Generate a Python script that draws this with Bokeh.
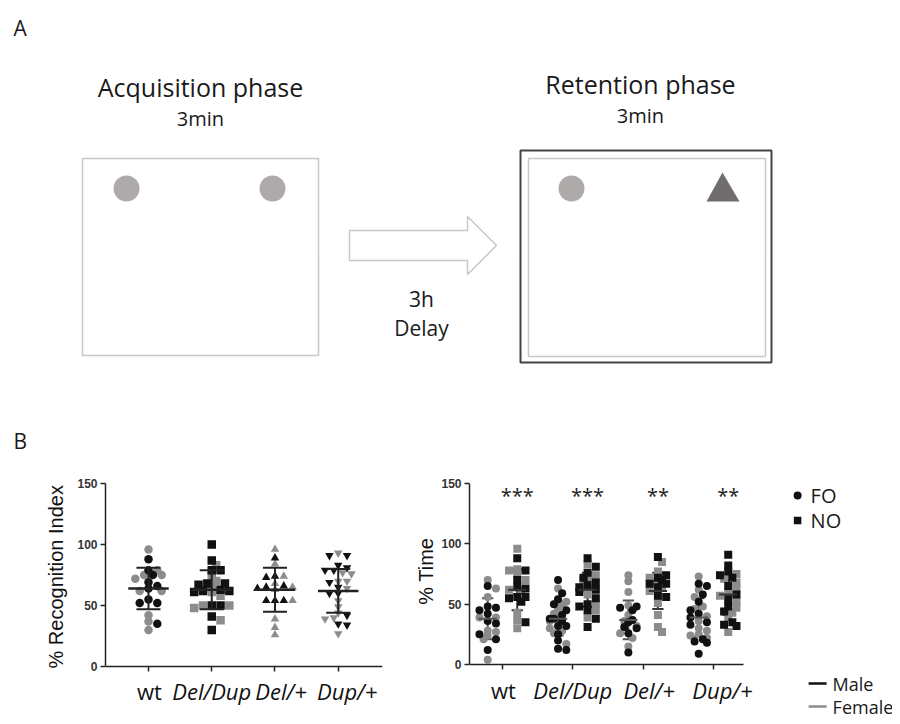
import numpy as np
from bokeh.plotting import figure
from bokeh.models import Range1d, FixedTicker
from bokeh.layouts import column, row
from bokeh.embed import file_html
from bokeh.resources import INLINE
from bokeh.core.properties import value

# ---------------- data ----------------
groups = ["wt", "Del/Dup", "Del/+", "Dup/+"]
group_italic = [False, True, True, True]
group_markers = ["circle", "square", "triangle", "inverted_triangle"]

# % Recognition Index (male = black, female = grey)
ri_male = [
    [88, 79, 75, 69, 66, 64, 55, 52, 52, 35],
    [100, 87, 79, 79, 68, 68, 67, 63, 62, 62, 61, 50, 50, 41, 30],
    [89, 74, 73, 66, 65, 64, 54, 54, 54],
    [91, 91, 83, 81, 79, 79, 69, 65, 60, 60, 42, 35, 34],
]
ri_female = [
    [96, 79, 75, 75, 72, 62, 62, 42, 37, 30],
    [83, 74, 70, 64, 61, 58, 50, 50, 48, 38],
    [96, 84, 74, 68, 65, 63, 54, 39, 32, 26],
    [93, 77, 76, 70, 70, 64, 54, 49, 44, 40, 39, 27],
]
ri_mean = [64, 63, 63, 62]
ri_sd = [17, 16, 18, 18]

# % Time exploring familiar (FO) and novel (NO) object
fo_male = [
    [65, 48, 47, 45, 42, 36, 34, 25, 21, 12],
    [70, 59, 54, 50, 45, 41, 38, 38, 36, 32, 32, 25, 20, 13, 12],
    [48, 47, 45, 37, 35, 31, 30, 26, 10],
    [67, 65, 58, 52, 45, 42, 39, 35, 33, 21, 19, 18, 9],
]
fo_female = [
    [70, 63, 56, 39, 39, 28, 27, 24, 21, 4],
    [63, 52, 50, 46, 42, 36, 30, 28, 26, 17],
    [74, 69, 60, 49, 41, 36, 32, 26, 22, 15],
    [73, 62, 56, 48, 46, 40, 36, 30, 28, 25, 24, 22],
]
no_male = [
    [88, 78, 70, 64, 63, 56, 56, 55, 52, 35],
    [88, 81, 76, 72, 68, 66, 64, 62, 60, 55, 50, 48, 45, 38, 31],
    [89, 74, 72, 70, 67, 67, 64, 57, 56],
    [91, 82, 77, 74, 72, 65, 58, 54, 48, 44, 35, 33, 32],
]
no_female = [
    [96, 79, 78, 75, 70, 62, 61, 43, 37, 30],
    [83, 74, 72, 70, 64, 63, 58, 50, 45, 39],
    [85, 77, 72, 68, 64, 61, 51, 41, 31, 27],
    [75, 73, 71, 68, 63, 60, 57, 52, 47, 43, 39, 27],
]
fo_mean = [38, 38, 37, 39]
fo_sd = [17, 14, 16, 16]
no_mean = [62, 62, 61, 58]
no_sd = [17, 14, 15, 17]
stars = ["***", "***", "**", "**"]

yticks = [0, 50, 100, 150]
y_max = 150

BLACK = "#111111"
GREY = "#8c8c8c"
TXT = "#1a1a1a"
NBSP = "\u00a0"


def swarm(vals, ypx, xpx, diam, maxw, k=0.75):
    vals = np.asarray(vals, dtype=float)
    order = np.argsort(-vals, kind="stable")
    placed = []
    offs = np.zeros(len(vals))
    step = diam * 0.55
    cands = [0.0]
    for j in range(1, 12):
        cands += [j * step, -j * step]
    for n, i in enumerate(order):
        y = vals[i] * ypx
        chosen = None
        for c in cands:
            if abs(c) > maxw:
                continue
            if all((c - px) ** 2 + (y - py) ** 2 >= (diam * k) ** 2 for px, py in placed):
                chosen = c
                break
        if chosen is None:
            chosen = cands[n % 5]
        chosen = max(-maxw, min(maxw, chosen))
        placed.append((chosen, y))
        offs[i] = chosen / xpx
    return offs


def style_axes(p, ylabel, standoff, xbounds):
    p.grid.visible = False
    p.outline_line_color = None
    for ax in (p.xaxis, p.yaxis):
        ax.axis_line_color = "#222222"
        ax.axis_line_width = 1.5
        ax.major_tick_line_color = "#222222"
        ax.major_tick_line_width = 1.5
        ax.major_tick_out = 5
        ax.major_tick_in = 0
        ax.minor_tick_out = 0
        ax.minor_tick_in = 0
    p.yaxis.bounds = (0, y_max)
    p.yaxis.ticker = FixedTicker(ticks=yticks)
    p.yaxis.major_label_text_font = "Liberation Sans"
    p.yaxis.major_label_text_font_size = "12px"
    p.yaxis.major_label_text_font_style = "bold"
    p.yaxis.major_label_text_color = "#333333"
    p.yaxis.major_label_standoff = 3
    p.yaxis.axis_label = ylabel
    p.yaxis.axis_label_text_font = "Liberation Sans"
    p.yaxis.axis_label_text_font_size = "20px"
    p.yaxis.axis_label_text_font_style = "normal"
    p.yaxis.axis_label_text_color = "#111111"
    p.yaxis.axis_label_standoff = standoff
    p.xaxis.fixed_location = 0
    p.xaxis.bounds = xbounds
    p.xaxis.ticker = FixedTicker(ticks=list(range(len(groups))))
    p.xaxis.major_label_overrides = {i: "" for i in range(len(groups))}
    p.xaxis.major_label_text_font_size = "1px"
    p.xaxis.major_label_standoff = 0


label_nudge = [1, 0, 6, 9]  # px


def add_cat_labels(p, ylab):
    for i, g in enumerate(groups):
        p.text(x=[i], y=[ylab], text=[g], text_align="center", text_baseline="middle",
               x_offset=label_nudge[i],
               text_font=value("Open Sans"), text_font_size=value("22px"),
               text_font_style="italic" if group_italic[i] else "normal",
               text_color="#111111")


# ---------------- panel A (schematic) ----------------
pa = figure(width=892, height=460, x_range=Range1d(0, 892), y_range=Range1d(460, 0),
            output_backend="svg", toolbar_location=None,
            x_axis_location=None, y_axis_location=None, min_border=0)
pa.grid.visible = False
pa.outline_line_color = None

LIGHT = "#c8c8c8"
OBJ = "#aeaaaa"
pa.quad(left=[82], right=[318], top=[158], bottom=[355], fill_color=None,
        line_color=LIGHT, line_width=1.5)
pa.scatter(x=[126, 272], y=[188, 188], size=26, marker="circle", fill_color=OBJ, line_color=None)
pa.patch(x=[349, 467, 467, 496, 467, 467, 349], y=[230, 230, 216, 245, 274, 260, 260],
         fill_color="white", line_color=LIGHT, line_width=1.5)
pa.quad(left=[520], right=[771], top=[150], bottom=[362], fill_color=None,
        line_color="#444444", line_width=2)
pa.quad(left=[528], right=[765], top=[158], bottom=[356], fill_color=None,
        line_color=LIGHT, line_width=1.5)
pa.scatter(x=[571], y=[188], size=26, marker="circle", fill_color=OBJ, line_color=None)
pa.patch(x=[722, 739, 706], y=[172, 201, 201], fill_color="#716d6c", line_color=None)

pa.text(x=[13, 13], y=[27, 440], text=["A", "B"], text_font=value("Open Sans"),
        text_font_size=value("21px"), text_align="left", text_baseline="middle", text_color=TXT)
pa.text(x=[200, 640], y=[86, 83], text=["Acquisition phase", "Retention phase"],
        text_font=value("Open Sans"), text_font_size=value("25px"),
        text_align="center", text_baseline="middle", text_color=TXT)
pa.text(x=[200, 640], y=[118, 115], text=["3min", "3min"],
        text_font=value("Open Sans"), text_font_size=value("20px"),
        text_align="center", text_baseline="middle", text_color=TXT)
pa.text(x=[421, 421], y=[298, 327], text=["3h", "Delay"],
        text_font=value("Open Sans"), text_font_size=value("21px"),
        text_align="center", text_baseline="middle", text_color=TXT)

# ---------------- panel B left: recognition index ----------------
x1_start, x1_end = -0.68, 3.70
p1 = figure(width=400, height=264, x_range=Range1d(x1_start, x1_end), y_range=Range1d(-39.3, 150),
            output_backend="svg", toolbar_location=None,
            min_border_left=105, min_border_right=18, min_border_top=23, min_border_bottom=10)
style_axes(p1, NBSP * 8 + "% Recognition Index", 7, (x1_start, x1_end))

for i in range(len(groups)):
    allv = ri_male[i] + ri_female[i]
    offs = swarm(allv, 1.22, 63.3, 8, 20)
    nm = len(ri_male[i])
    xs = i + offs
    p1.scatter(x=list(xs[nm:]), y=ri_female[i], marker=group_markers[i], size=8.5,
               fill_color=GREY, line_color=None)
    p1.scatter(x=list(xs[:nm]), y=ri_male[i], marker=group_markers[i], size=8.5,
               fill_color=BLACK, line_color=None)
    m, s = ri_mean[i], ri_sd[i]
    p1.segment(x0=[i - 0.32], y0=[m], x1=[i + 0.32], y1=[m], line_color="#222222", line_width=2.5)
    p1.segment(x0=[i], y0=[m - s], x1=[i], y1=[m + s], line_color="#222222", line_width=2)
    p1.segment(x0=[i - 0.19, i - 0.19], y0=[m - s, m + s], x1=[i + 0.19, i + 0.19], y1=[m - s, m + s],
               line_color="#222222", line_width=2)
add_cat_labels(p1, -19.7)

# ---------------- panel B right: % time ----------------
x2_start = -0.469
x2_px = 70.3      # px per category
y2_px = 1.2069    # px per % unit
p2 = figure(width=492, height=264, x_range=Range1d(x2_start, 5.546), y_range=Range1d(-41.4, 150),
            output_backend="svg", toolbar_location=None,
            min_border_left=69, min_border_right=0, min_border_top=23, min_border_bottom=10)
style_axes(p2, NBSP * 10 + "% Time", 1, (x2_start, 3.427))

for i in range(len(groups)):
    for males, females, mean, sd, shift, mk, ecol in (
            (fo_male, fo_female, fo_mean, fo_sd, -0.21, "circle", "#555555"),
            (no_male, no_female, no_mean, no_sd, 0.21, "square", "#333333")):
        allv = males[i] + females[i]
        offs = swarm(allv, y2_px, x2_px, 7.5, 11)
        nm = len(males[i])
        xs = i + shift + offs
        m, s = mean[i], sd[i]
        c = i + shift
        p2.segment(x0=[c], y0=[m - s], x1=[c], y1=[m + s], line_color=ecol, line_width=2)
        p2.segment(x0=[c - 0.08, c - 0.08], y0=[m - s, m + s], x1=[c + 0.08, c + 0.08], y1=[m - s, m + s],
                   line_color=ecol, line_width=2)
        p2.scatter(x=list(xs[nm:]), y=females[i], marker=mk, size=8, fill_color=GREY, line_color=None)
        p2.scatter(x=list(xs[:nm]), y=males[i], marker=mk, size=8, fill_color=BLACK, line_color=None)
        p2.segment(x0=[c - 0.13], y0=[m], x1=[c + 0.13], y1=[m], line_color=ecol, line_width=2)
p2.text(x=[i + 0.21 for i in range(len(groups))], y=[140] * len(groups), text=stars,
        text_font=value("Open Sans"), text_font_size=value("20px"),
        text_align="center", text_baseline="middle", text_color="#222222")
add_cat_labels(p2, -21.5)


# ---------------- legend (drawn in the right panel's free area) ----------------
def lx(px):  # legend layout: page pixel -> data x
    return x2_start + (px - 469) / x2_px


def ly(py):  # legend layout: page pixel -> data y
    return (664 - py) / y2_px


p2.scatter(x=[lx(797)], y=[ly(495)], marker="circle", size=8, fill_color=BLACK, line_color=None)
p2.scatter(x=[lx(797)], y=[ly(520)], marker="square", size=7.5, fill_color=BLACK, line_color=None)
p2.text(x=[lx(810), lx(810)], y=[ly(495), ly(520)], text=["FO", "NO"], text_font=value("Open Sans"),
        text_font_size=value("20px"), text_align="left", text_baseline="middle", text_color=TXT)
p2.segment(x0=[lx(808), lx(808)], y0=[ly(683), ly(706)], x1=[lx(826), lx(826)], y1=[ly(683), ly(706)],
           line_color=[BLACK, GREY], line_width=2.5)
p2.text(x=[lx(832), lx(832)], y=[ly(683), ly(706)], text=["Male", "Female"], text_font=value("Open Sans"),
        text_font_size=value("18px"), text_align="left", text_baseline="middle", text_color=TXT)

layout = column(pa, row(p1, p2, spacing=0), spacing=0)

open("out.html", "w").write(file_html(layout, INLINE))
